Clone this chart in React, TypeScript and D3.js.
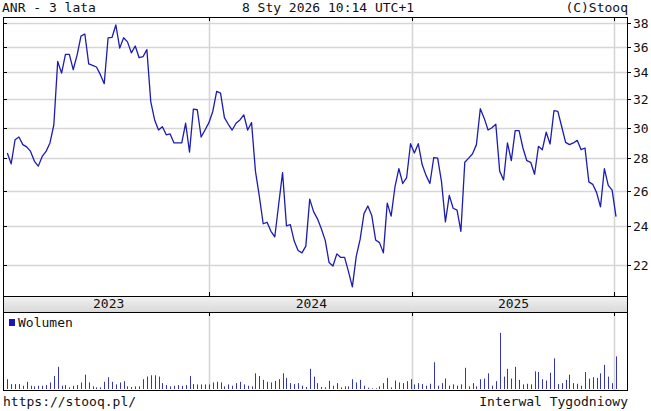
import React from "react";
import * as d3 from "d3";

const TITLE = "ANR - 3 lata";
const DATE_TEXT = "8 Sty 2026 10:14 UTC+1";
const COPYRIGHT = "(C)Stooq";
const FOOT_LEFT = "https://stooq.pl/";
const FOOT_RIGHT = "Interwal Tygodniowy";
const VOLUME_LABEL = "Wolumen";

const FIRST_WEEK = "2023-01-02";

const PRICE = [
  28.34, 27.65, 29.2, 29.38, 28.88, 28.73, 28.44, 27.81, 27.51, 28.12,
  28.44, 28.99, 30.19, 34.85, 33.95, 35.42, 35.42, 34.21, 35.36, 36.91,
  37.09, 34.67, 34.54, 34.42, 33.83, 33.15, 36.77, 36.8, 37.85, 35.92,
  36.77, 36.43, 35.54, 36.09, 35.15, 35.23, 35.8, 31.83, 30.54, 29.85,
  30.07, 29.53, 29.59, 28.99, 28.99, 28.99, 30.31, 28.4, 31.3, 31.25,
  29.38, 29.85, 30.35, 31.13, 32.57, 32.45, 30.7, 30.24, 29.85, 30.31,
  30.54, 30.89, 29.85, 30.35, 27.2, 25.71, 24.15, 24.23, 23.74, 23.45,
  25.24, 27.11, 24.04, 24.1, 23.22, 22.73, 22.61, 22.96, 25.53, 24.82,
  24.42, 23.88, 23.26, 22.12, 21.95, 22.56, 22.38, 22.38, 21.67, 20.94,
  22.43, 23.31, 24.71, 25.14, 24.61, 23.28, 23.14, 22.61, 25.3, 24.57,
  26.27, 27.35, 26.45, 26.81, 28.94, 28.34, 28.94, 27.61, 26.94, 26.45,
  28.05, 28.01, 26.55, 24.25, 25.75, 25.01, 24.91, 23.74, 27.75, 28.01,
  28.29, 28.88, 31.32, 30.66, 29.85, 30.0, 30.24, 27.2, 26.66, 28.99,
  27.85, 29.81, 29.81, 28.66, 27.85, 27.75, 27.01, 28.77, 28.55, 29.7,
  28.92, 31.18, 31.13, 30.07, 29.03, 28.88, 28.99, 29.16, 28.55, 28.66,
  26.55, 26.4, 25.91, 25.09, 27.35, 26.34, 26.06, 24.54,
];

const VOLUME = [
  30, 15, 15, 15, 10, 22, 10, 8, 10, 10,
  12, 20, 40, 68, 10, 12, 5, 10, 12, 20,
  44, 20, 8, 5, 5, 22, 36, 22, 14, 20,
  24, 8, 6, 8, 8, 30, 38, 42, 42, 38,
  18, 12, 8, 10, 12, 10, 12, 40, 15, 14,
  14, 14, 14, 20, 22, 20, 8, 14, 10, 18,
  22, 14, 10, 8, 48, 40, 28, 22, 20, 25,
  30, 48, 34, 18, 15, 18, 10, 6, 62, 38,
  18, 6, 5, 25, 10, 18, 5, 8, 8, 30,
  20, 28, 10, 4, 2, 2, 8, 18, 34, 5,
  26, 20, 18, 24, 30, 14, 18, 15, 10, 16,
  82, 10, 18, 32, 10, 14, 10, 14, 65, 8,
  18, 8, 30, 32, 48, 10, 24, 172, 38, 62,
  32, 68, 28, 14, 16, 14, 54, 52, 30, 26,
  50, 94, 15, 18, 28, 44, 18, 16, 10, 52,
  32, 36, 34, 48, 74, 38, 18, 100,
];

const PRICE_TICKS = [22, 24, 26, 28, 30, 32, 34, 36, 38];
const YEAR_LINES = ["2024-01-01", "2025-01-01", "2026-01-01"];
const YEAR_LABELS = ["2023", "2024", "2025"];
const YEAR_LABEL_DATES = ["2023-07-04", "2024-07-04", "2025-07-04"];

const W = 651;
const H = 411;
const L = 3;
const R = 627;
const T = 17;
const B = 296;
const BAND_B = 312;
const VOL_B = 390;

const FONT = "'DejaVu Sans Mono', 'Liberation Mono', monospace";
const LINE_COLOR = "#1c1cb0";
const GRID = "#d6d6d6";

export default function App() {
  const parse = d3.utcParse("%Y-%m-%d");
  const start = parse(FIRST_WEEK) as Date;
  const weeks = PRICE.map((_, i) => d3.utcDay.offset(start, 7 * i));

  const x = d3
    .scaleUtc()
    .domain([weeks[0], weeks[weeks.length - 1]])
    .range([7.3, 616]);

  const y = d3.scaleLog().domain([20.51, 38.54]).range([B, T]);
  const yv = d3.scaleLinear().domain([0, 233]).range([VOL_B - 1, BAND_B + 1]);

  const line = d3
    .line<number>()
    .x((_, i) => x(weeks[i]))
    .y((d) => y(d))
    .curve(d3.curveLinear);

  const yearX = YEAR_LINES.map((s) => Math.round(x(parse(s) as Date)) + 0.5);

  return (
    <svg
      width={W}
      height={H}
      viewBox={`0 0 ${W} ${H}`}
      style={{ display: "block", position: "absolute", left: 0, top: 0, background: "#fff" }}
      fontFamily={FONT}
      fontSize={13}
    >
      <defs>
        <linearGradient id="band" x1="0" y1="0" x2="0" y2="1">
          <stop offset="0" stopColor="#f2f2f2" />
          <stop offset="1" stopColor="#d9d9d9" />
        </linearGradient>
        <clipPath id="plotClip">
          <rect x={L} y={T} width={R - L} height={B - T} />
        </clipPath>
      </defs>
      <rect x={0} y={0} width={W} height={H} fill="#fff" />

      {/* header */}
      <text x={2} y={12} fill="#111">{TITLE}</text>
      <text x={328} y={12} textAnchor="middle" fill="#111">{DATE_TEXT}</text>
      <text x={R + 1} y={12} textAnchor="end" fill="#111">{COPYRIGHT}</text>

      {/* horizontal grid */}
      {PRICE_TICKS.map((t) => {
        const yy = Math.round(y(t)) + 0.5;
        return (
          <g key={t}>
            <line x1={L} x2={R} y1={yy} y2={yy} stroke={GRID} strokeWidth={1.6} />
            <line x1={L} x2={L + 4} y1={yy} y2={yy} stroke="#000" strokeWidth={1} />
            <line x1={R} x2={R + 4} y1={yy} y2={yy} stroke="#000" strokeWidth={1} />
            <text x={R + 6} y={yy + 4.5} fill="#111">{t}</text>
          </g>
        );
      })}

      {/* vertical year grid */}
      {yearX.map((xx, i) => (
        <g key={i}>
          <line x1={xx} x2={xx} y1={T} y2={B} stroke={GRID} strokeWidth={1.6} />
          <line x1={xx} x2={xx} y1={BAND_B} y2={VOL_B} stroke={GRID} strokeWidth={1.6} />
          <line x1={xx} x2={xx} y1={T} y2={T + 4} stroke="#000" strokeWidth={1} />
          <line x1={xx} x2={xx} y1={B - 4} y2={B} stroke="#000" strokeWidth={1} />
          <line x1={xx} x2={xx} y1={BAND_B} y2={BAND_B + 4} stroke="#000" strokeWidth={1} />
        </g>
      ))}

      {/* price line */}
      <path
        d={line(PRICE) || ""}
        fill="none"
        stroke={LINE_COLOR}
        strokeWidth={1.3}
        strokeLinejoin="round"
        clipPath="url(#plotClip)"
      />

      {/* year band */}
      <rect x={L} y={B} width={R - L} height={BAND_B - B} fill="url(#band)" />
      {yearX.map((xx, i) => (
        <line key={i} x1={xx} x2={xx} y1={B} y2={BAND_B} stroke="#e6e6e6" strokeWidth={1} strokeDasharray="2,2" />
      ))}
      {YEAR_LABELS.map((lab, i) => (
        <text
          key={lab}
          x={x(parse(YEAR_LABEL_DATES[i]) as Date)}
          y={B + 12}
          textAnchor="middle"
          fill="#111"
        >
          {lab}
        </text>
      ))}

      {/* volume bars */}
      {VOLUME.map((v, i) => {
        const xx = Math.round(x(weeks[i])) + 0.5;
        return (
          <line
            key={i}
            x1={xx}
            x2={xx}
            y1={yv(0)}
            y2={yv(v)}
            stroke="#3434b8"
            strokeWidth={1}
          />
        );
      })}

      {/* volume legend */}
      <rect x={9} y={319} width={6} height={7} fill="#1414c8" />
      <text x={18} y={327} fill="#111">{VOLUME_LABEL}</text>

      {/* frames */}
      <rect x={L + 0.5} y={T + 0.5} width={R - L} height={VOL_B - T} fill="none" stroke="#000" strokeWidth={1} />
      <line x1={L} x2={R + 0.5} y1={B + 0.5} y2={B + 0.5} stroke="#000" strokeWidth={1} />
      <line x1={L} x2={R + 0.5} y1={BAND_B + 0.5} y2={BAND_B + 0.5} stroke="#000" strokeWidth={1} />

      {/* footer */}
      <text x={3} y={406} fill="#111">{FOOT_LEFT}</text>
      <text x={R + 1} y={406} textAnchor="end" fill="#111">{FOOT_RIGHT}</text>
    </svg>
  );
}
